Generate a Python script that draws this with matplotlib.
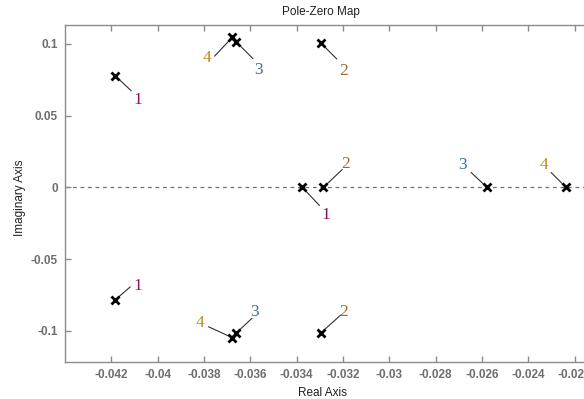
#!/usr/bin/env python3
# Pole-zero map of the four closed-loop cases (MATLAB-style look).

import matplotlib
matplotlib.use("Agg")
import matplotlib.pyplot as plt

plt.rcParams.update({
    "font.family": ["Liberation Sans", "DejaVu Sans"],
    "axes.edgecolor": "#8a8a8a",
    "axes.linewidth": 1.0,
})

# pole locations
pole_re = [-0.04183, -0.04183, -0.03296, -0.03296, -0.03662, -0.03662,
           -0.03677, -0.03677, -0.03375, -0.03285, -0.02578, -0.02237]
pole_im = [0.0778, -0.0783, 0.1007, -0.1014, 0.1016, -0.1016,
           0.1047, -0.1047, 0.0, 0.0, 0.0, 0.0]
pole_case = ["1", "1", "2", "2", "3", "3", "4", "4", "1", "2", "3", "4"]

xticks = [-0.042, -0.04, -0.038, -0.036, -0.034, -0.032, -0.03,
          -0.028, -0.026, -0.024, -0.022]
xticklabels = ["-0.042", "-0.04", "-0.038", "-0.036", "-0.034", "-0.032",
               "-0.03", "-0.028", "-0.026", "-0.024", "-0.022"]
yticks = [-0.1, -0.05, 0, 0.05, 0.1]
yticklabels = ["-0.1", "-0.05", "0", "0.05", "0.1"]

CASE_COLORS = {"1": "#8b1060", "2": "#9a6a30", "3": "#3a70a0", "4": "#c08a20"}

# leader line end and label position, pixel offsets from each pole
line_off = [(16, -15), (15, 13), (16, -16), (20, 18), (17, -17), (16, 15),
            (-18, -19), (-24, 11), (17, -18), (19, 18), (-16, 15), (-15, 15)]
text_off = [(23, -24), (23, 14), (23, -28), (23, 21), (23, -28), (19, 21),
            (-25, -21), (-32, 15), (23, -28), (22, 23), (-25, 22), (-22, 22)]

W, H = 584, 399
fig = plt.figure(figsize=(W / 100, H / 100), dpi=100)
# axes run past the right edge of the picture, like the cropped original
ax = fig.add_axes([65 / W, 37 / H, 556 / W, 337 / H])
ax.set_xlim(-0.044, -0.020)
ax.set_ylim(-0.1216, 0.1132)

ax.axhline(0, color="#707070", linestyle=(0, (3, 3)), linewidth=0.9, zorder=1)

for x, y, c, lo, to in zip(pole_re, pole_im, pole_case, line_off, text_off):
    ax.annotate("", xy=(x, y), xytext=lo, textcoords="offset pixels",
                arrowprops=dict(arrowstyle="-", color="#303030", lw=0.8,
                                shrinkA=0, shrinkB=3), zorder=2)
    ax.annotate(c, xy=(x, y), xytext=to, textcoords="offset pixels",
                ha="center", va="center", fontsize=12.5,
                family=["Liberation Serif", "DejaVu Serif"],
                color=CASE_COLORS[c], zorder=3)

ax.plot(pole_re, pole_im, linestyle="none", marker="x", color="black",
        markersize=5.5, markeredgewidth=2.0, zorder=4)

ax.set_xticks(xticks)
ax.set_xticklabels(xticklabels)
ax.set_yticks(yticks)
ax.set_yticklabels(yticklabels)
ax.tick_params(direction="in", length=4, width=1, color="#8a8a8a",
               top=True, labelsize=8.5, labelcolor="#6e6e6e", pad=5)
for lab in ax.get_xticklabels() + ax.get_yticklabels():
    lab.set_fontweight("bold")

fig.text(321 / W, 1 - 12 / H, "Pole-Zero Map", ha="center", va="center",
         fontsize=8.5, color="#202020")
fig.text(323 / W, 1 - 393 / H, "Real Axis", ha="center", va="center",
         fontsize=8.5, color="#202020")
fig.text(20 / W, 1 - 198 / H, "Imaginary Axis", ha="center", va="center",
         rotation=90, fontsize=8.5, color="#202020")

fig.savefig("out.png", dpi=100)
